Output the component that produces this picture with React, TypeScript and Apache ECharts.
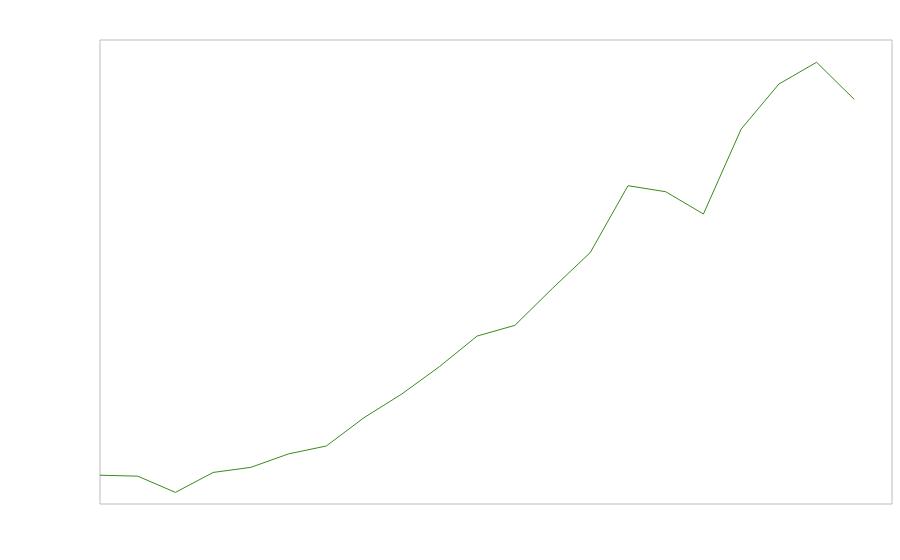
import React, { useEffect, useRef } from "react";
import * as echarts from "echarts";

const values: number[] = [
  6.2, 6.0, 2.5, 6.8, 7.9, 10.8, 12.5, 18.6, 23.7, 29.6, 36.2, 38.5, 46.5,
  54.2, 68.6, 67.3, 62.5, 80.8, 90.5, 95.2, 87.2,
];
const xMin = 0;
const xMax = 21;
const yMin = 0;
const yMax = 100;

export default function App() {
  const ref = useRef<HTMLDivElement>(null);
  useEffect(() => {
    if (!ref.current) return;
    const chart = echarts.init(ref.current, undefined, { renderer: "svg" });
    chart.setOption({
      animation: false,
      grid: {
        show: true,
        left: 100,
        right: 8,
        top: 40,
        bottom: 56,
        borderColor: "#bbbbbb",
        borderWidth: 1,
        backgroundColor: "transparent",
      },
      xAxis: {
        type: "value",
        min: xMin,
        max: xMax,
        show: false,
      },
      yAxis: {
        type: "value",
        min: yMin,
        max: yMax,
        show: false,
      },
      series: [
        {
          type: "line",
          data: values.map((v, i) => [i, v]),
          symbol: "none",
          lineStyle: { color: "#3a8a1e", width: 1 },
          itemStyle: { color: "#3a8a1e" },
        },
      ],
    });
    return () => chart.dispose();
  }, []);
  return (
    <div
      ref={ref}
      style={{ position: "fixed", left: 0, top: 0, width: 900, height: 560 }}
    />
  );
}
